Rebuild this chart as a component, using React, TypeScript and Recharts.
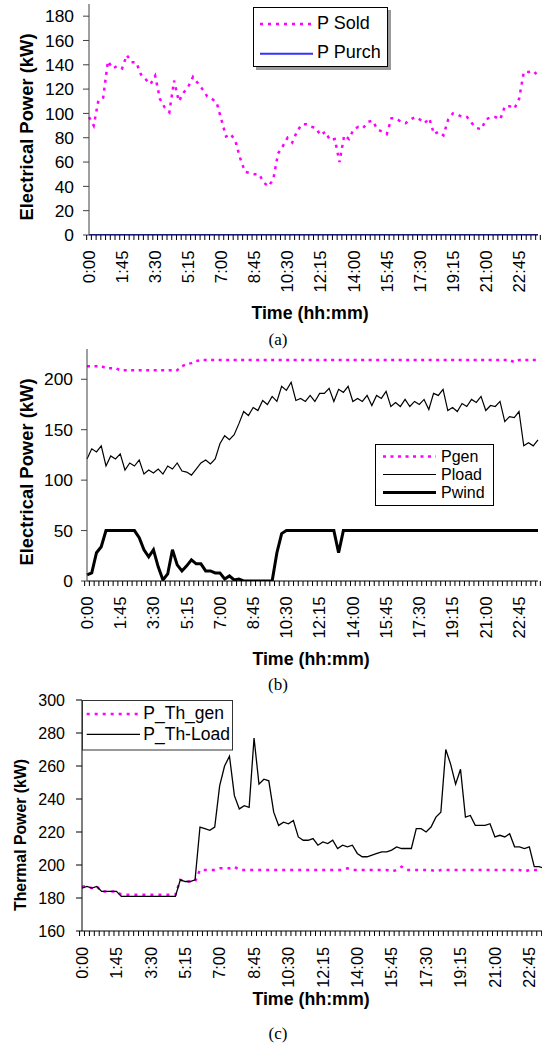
import React from 'react';
import { LineChart, Line, XAxis, YAxis, Legend } from 'recharts';

const FONT = '"Liberation Sans", Arial, Helvetica, sans-serif';
const SERIF = '"Liberation Serif", "Times New Roman", serif';
const MAGENTA = '#ff00ff';

// 15-minute time steps over one day
const TIMES = [
  '0:00', '0:15', '0:30', '0:45', '1:00', '1:15', '1:30', '1:45', '2:00', '2:15', '2:30', '2:45',
  '3:00', '3:15', '3:30', '3:45', '4:00', '4:15', '4:30', '4:45', '5:00', '5:15', '5:30', '5:45',
  '6:00', '6:15', '6:30', '6:45', '7:00', '7:15', '7:30', '7:45', '8:00', '8:15', '8:30', '8:45',
  '9:00', '9:15', '9:30', '9:45', '10:00', '10:15', '10:30', '10:45', '11:00', '11:15', '11:30', '11:45',
  '12:00', '12:15', '12:30', '12:45', '13:00', '13:15', '13:30', '13:45', '14:00', '14:15', '14:30', '14:45',
  '15:00', '15:15', '15:30', '15:45', '16:00', '16:15', '16:30', '16:45', '17:00', '17:15', '17:30', '17:45',
  '18:00', '18:15', '18:30', '18:45', '19:00', '19:15', '19:30', '19:45', '20:00', '20:15', '20:30', '20:45',
  '21:00', '21:15', '21:30', '21:45', '22:00', '22:15', '22:30', '22:45', '23:00', '23:15', '23:30', '23:45',
];

const TIME_LABELS = ['0:00', '1:45', '3:30', '5:15', '7:00', '8:45', '10:30', '12:15', '14:00', '15:45', '17:30', '19:15', '21:00', '22:45'];

// (a) electrical power sold / purchased
const P_SOLD = [
  97, 90, 111, 113, 143, 137, 139, 137, 148, 142, 142, 132,
  128, 124, 131, 112, 105, 101, 127, 110, 117, 122, 130, 125,
  120, 114, 112, 109, 95, 81, 83, 77, 63, 52, 51, 50,
  50, 43, 40, 46, 67, 73, 80, 76, 85, 91, 91, 89,
  88, 82, 85, 78, 79, 60, 82, 79, 87, 89, 88, 93,
  94, 87, 85, 83, 96, 96, 93, 92, 95, 97, 95, 92,
  96, 83, 85, 82, 95, 100, 99, 97, 97, 92, 88, 87,
  95, 97, 97, 95, 106, 106, 104, 112, 134, 134, 135, 131,
];
const P_PURCH = [
  0, 0, 0, 0, 0, 0, 0, 0, 0, 0, 0, 0,
  0, 0, 0, 0, 0, 0, 0, 0, 0, 0, 0, 0,
  0, 0, 0, 0, 0, 0, 0, 0, 0, 0, 0, 0,
  0, 0, 0, 0, 0, 0, 0, 0, 0, 0, 0, 0,
  0, 0, 0, 0, 0, 0, 0, 0, 0, 0, 0, 0,
  0, 0, 0, 0, 0, 0, 0, 0, 0, 0, 0, 0,
  0, 0, 0, 0, 0, 0, 0, 0, 0, 0, 0, 0,
  0, 0, 0, 0, 0, 0, 0, 0, 0, 0, 0, 0,
];

// (b) generation, load and wind
const P_GEN = [
  213, 213, 213, 213, 211, 211, 211, 209, 209, 209, 209, 209,
  209, 209, 209, 209, 209, 209, 209, 209, 213, 215, 216, 218,
  219, 219, 219, 219, 219, 219, 219, 219, 219, 219, 219, 219,
  219, 219, 219, 219, 219, 219, 219, 219, 219, 219, 219, 219,
  219, 219, 219, 219, 219, 219, 219, 219, 219, 219, 219, 219,
  219, 219, 219, 219, 219, 219, 219, 219, 219, 219, 219, 219,
  219, 219, 219, 219, 219, 219, 219, 219, 219, 219, 219, 219,
  219, 219, 219, 219, 219, 219, 217, 219, 219, 219, 219, 219,
];
const P_LOAD = [
  121, 131, 128, 134, 114, 124, 121, 126, 110, 117, 114, 120,
  106, 110, 107, 111, 106, 114, 111, 117, 109, 108, 105, 111,
  117, 120, 116, 121, 136, 144, 140, 145, 156, 168, 164, 172,
  169, 179, 175, 183, 178, 193, 189, 197, 179, 181, 178, 184,
  178, 186, 186, 191, 178, 190, 187, 193, 178, 181, 178, 184,
  174, 184, 181, 188, 173, 177, 173, 180, 173, 178, 175, 180,
  170, 186, 184, 190, 169, 172, 168, 176, 173, 180, 177, 183,
  169, 174, 173, 178, 158, 163, 162, 168, 134, 137, 134, 140,
];
const P_WIND = [
  6, 8, 28, 34, 50, 50, 50, 50, 50, 50, 50, 43,
  31, 24, 31, 14, 1, 7, 31, 16, 10, 15, 21, 17,
  17, 10, 10, 8, 8, 2, 5, 1, 2, 0, 0, 0,
  0, 0, 0, 0, 28, 47, 50, 50, 50, 50, 50, 50,
  50, 50, 50, 50, 50, 28, 50, 50, 50, 50, 50, 50,
  50, 50, 50, 50, 50, 50, 50, 50, 50, 50, 50, 50,
  50, 50, 50, 50, 50, 50, 50, 50, 50, 50, 50, 50,
  50, 50, 50, 50, 50, 50, 50, 50, 50, 50, 50, 50,
];

// (c) thermal generation and load
const TH_GEN = [
  187, 187, 186, 187, 184, 184, 184, 184, 182, 182, 182, 182,
  182, 182, 182, 182, 182, 182, 182, 182, 191, 190, 190, 190,
  197, 197, 197, 197, 198, 198, 198, 199, 197, 197, 197, 197,
  197, 197, 197, 197, 197, 197, 197, 197, 197, 197, 197, 197,
  197, 197, 197, 197, 197, 197, 198, 197, 197, 197, 197, 197,
  197, 197, 197, 196, 197, 199, 197, 197, 197, 197, 197, 197,
  196, 197, 197, 197, 197, 197, 197, 197, 197, 197, 197, 197,
  197, 197, 197, 197, 197, 197, 196, 197, 197, 197, 197, 197,
];
const TH_LOAD = [
  186, 187, 186, 187, 184, 184, 184, 184, 181, 181, 181, 181,
  181, 181, 181, 181, 181, 181, 181, 181, 191, 190, 190, 191,
  223, 222, 221, 223, 248, 260, 266, 242, 234, 236, 235, 277,
  249, 252, 251, 232, 224, 226, 225, 227, 217, 215, 215, 216,
  212, 214, 213, 215, 210, 212, 211, 212, 207, 205, 205, 206,
  207, 208, 208, 209, 211, 210, 210, 210, 222, 222, 220, 223,
  229, 232, 270, 261, 249, 258, 229, 230, 224, 224, 224, 225,
  217, 218, 217, 219, 211, 211, 210, 211, 199, 199, 198, 198,
];

const dataA = TIMES.map((t, i) => ({ t, sold: P_SOLD[i], purch: P_PURCH[i] }));
const dataB = TIMES.map((t, i) => ({ t, gen: P_GEN[i], load: P_LOAD[i], wind: P_WIND[i] }));
const dataC = TIMES.map((t, i) => ({ t, thGen: TH_GEN[i], thLoad: TH_LOAD[i] }));

// category tick marks at every step, rotated time label every 7th step
const makeTimeTick = (step: number, gap: number, fontSize: number) => (props: any) => {
  const { x, y, payload, index } = props;
  const showLabel = TIME_LABELS.includes(payload.value);
  const left = x - step / 2;
  return (
    <g>
      <line x1={left} y1={y} x2={left} y2={y + 5} stroke="#000" strokeWidth={1} />
      {index === TIMES.length - 1 && (
        <line x1={x + step / 2} y1={y} x2={x + step / 2} y2={y + 5} stroke="#000" strokeWidth={1} />
      )}
      {showLabel && (
        <text
          x={x}
          y={y + gap}
          transform={`rotate(-90 ${x} ${y + gap})`}
          textAnchor="end"
          dy="0.35em"
          fontSize={fontSize}
          fontFamily={FONT}
          fill="#000"
        >
          {payload.value}
        </text>
      )}
    </g>
  );
};

const LegendA = () => (
  <svg width={139} height={64} style={{ display: 'block', overflow: 'visible' }}>
    <rect x={3} y={3} width={135} height={60} fill="#9a9a9a" />
    <rect x={0.5} y={0.5} width={134} height={59} fill="#fff" stroke="#000" />
    <line x1={7} y1={17} x2={60} y2={17} stroke={MAGENTA} strokeWidth={2.5} strokeDasharray="3 5" />
    <text x={64} y={21.5} fontSize={18} fontFamily={FONT} fill="#000">P Sold</text>
    <line x1={7} y1={46.7} x2={60} y2={46.7} stroke="#3333ff" strokeWidth={2} />
    <text x={64} y={51} fontSize={18} fontFamily={FONT} fill="#000">P Purch</text>
  </svg>
);

const LegendB = () => (
  <svg width={119} height={63} style={{ display: 'block', overflow: 'visible' }}>
    <rect x={0.5} y={0.5} width={118} height={61} fill="#fff" stroke="#000" />
    <line x1={8} y1={12.5} x2={61} y2={12.5} stroke={MAGENTA} strokeWidth={2.5} strokeDasharray="3 4.5" />
    <text x={66} y={18} fontSize={16} fontFamily={FONT} fill="#000">Pgen</text>
    <line x1={8} y1={30.5} x2={61} y2={30.5} stroke="#000" strokeWidth={1.2} />
    <text x={66} y={36} fontSize={16} fontFamily={FONT} fill="#000">Pload</text>
    <line x1={8} y1={48.5} x2={61} y2={48.5} stroke="#000" strokeWidth={3} />
    <text x={66} y={54} fontSize={16} fontFamily={FONT} fill="#000">Pwind</text>
  </svg>
);

const LegendC = () => (
  <svg width={151} height={51} style={{ display: 'block', overflow: 'visible' }}>
    <rect x={0.5} y={0.5} width={150} height={49.5} fill="#fff" stroke="#333" />
    <line x1={4.7} y1={14} x2={58} y2={14} stroke={MAGENTA} strokeWidth={2.5} strokeDasharray="3 5" />
    <text x={61.3} y={18.5} fontSize={17.5} fontFamily={FONT} fill="#000">P_Th_gen</text>
    <line x1={4.7} y1={34.3} x2={58} y2={34.3} stroke="#000" strokeWidth={1.3} />
    <text x={61.3} y={40} fontSize={17.5} fontFamily={FONT} fill="#000">P_Th-Load</text>
  </svg>
);

const Caption = ({ x, y, size, rotate = false, serif = false, bold = false, children }: any) => (
  <div
    style={{
      position: 'absolute',
      left: x,
      top: y,
      transform: `translate(-50%, -50%)${rotate ? ' rotate(-90deg)' : ''}`,
      fontSize: size,
      lineHeight: 1,
      fontWeight: bold ? 'bold' : 'normal',
      fontFamily: serif ? SERIF : FONT,
      whiteSpace: 'nowrap',
      color: '#000',
    }}
  >
    {children}
  </div>
);

const frameStroke = { stroke: '#888', strokeWidth: 1.5 };

export default function App() {
  return (
    <div style={{ position: 'absolute', left: 0, top: 0, width: 542, height: 1047, background: '#fff', overflow: 'hidden' }}>
      {/* (a) */}
      <div style={{ position: 'absolute', left: 0, top: 0 }}>
        <LineChart width={542} height={340} data={dataA} margin={{ top: 4, right: 4, bottom: 0, left: 0 }}>
          <XAxis
            dataKey="t"
            interval={0}
            height={105}
            tickSize={0}
            tickMargin={0}
            tickLine={false}
            axisLine={{ stroke: '#000' }}
            tick={makeTimeTick(449 / 96, 15.5, 16.8)}
          />
          <XAxis xAxisId="top" dataKey="t" orientation="top" height={0} tick={false} tickLine={false} axisLine={frameStroke} />
          <YAxis
            domain={[0, 190]}
            ticks={[0, 20, 40, 60, 80, 100, 120, 140, 160, 180]}
            interval={0}
            width={89}
            tickSize={6}
            tickMargin={9}
            allowDataOverflow
            axisLine={{ stroke: '#404040' }}
            tickLine={{ stroke: '#404040' }}
            tick={{ fill: '#000', fontSize: 17.4, fontFamily: FONT }}
          />
          <YAxis yAxisId="right" orientation="right" width={0} tick={false} tickLine={false} axisLine={frameStroke} />
          <Line type="linear" dataKey="sold" name="P Sold" stroke={MAGENTA} strokeWidth={2.5} strokeDasharray="3 5" dot={false} isAnimationActive={false} />
          <Line type="linear" dataKey="purch" name="P Purch" stroke="#3333ff" strokeWidth={2} dot={false} isAnimationActive={false} />
          <Legend
            layout="horizontal"
            verticalAlign="middle"
            align="center"
            wrapperStyle={{ left: 253, top: 7, width: 139, height: 64 }}
            content={() => <LegendA />}
          />
        </LineChart>
      </div>

      {/* (b) */}
      <div style={{ position: 'absolute', left: 0, top: 340 }}>
        <LineChart width={542} height={340} data={dataB} margin={{ top: 9, right: 4, bottom: 0, left: 0 }}>
          <XAxis
            dataKey="t"
            interval={0}
            height={99}
            tickSize={0}
            tickMargin={0}
            tickLine={false}
            axisLine={{ stroke: '#000' }}
            tick={makeTimeTick(451 / 96, 15.5, 16.8)}
          />
          <XAxis xAxisId="top" dataKey="t" orientation="top" height={0} tick={false} tickLine={false} axisLine={frameStroke} />
          <YAxis
            domain={[0, 230]}
            ticks={[0, 50, 100, 150, 200]}
            interval={0}
            width={87}
            tickSize={6}
            tickMargin={8}
            allowDataOverflow
            axisLine={{ stroke: '#404040' }}
            tickLine={{ stroke: '#404040' }}
            tick={{ fill: '#000', fontSize: 17.4, fontFamily: FONT }}
          />
          <YAxis yAxisId="right" orientation="right" width={0} tick={false} tickLine={false} axisLine={frameStroke} />
          <Line type="linear" dataKey="gen" name="Pgen" stroke={MAGENTA} strokeWidth={2.5} strokeDasharray="3 4.5" dot={false} isAnimationActive={false} />
          <Line type="linear" dataKey="load" name="Pload" stroke="#000" strokeWidth={1.2} dot={false} isAnimationActive={false} />
          <Line type="linear" dataKey="wind" name="Pwind" stroke="#000" strokeWidth={3} dot={false} isAnimationActive={false} />
          <Legend
            layout="horizontal"
            verticalAlign="middle"
            align="center"
            wrapperStyle={{ left: 375, top: 104, width: 119, height: 63 }}
            content={() => <LegendB />}
          />
        </LineChart>
      </div>

      {/* (c) */}
      <div style={{ position: 'absolute', left: 0, top: 690, width: 542, height: 357, overflow: 'hidden' }}>
        <LineChart width={549} height={357} data={dataC} margin={{ top: 10, right: 0, bottom: 0, left: 0 }}>
          <XAxis
            dataKey="t"
            interval={0}
            height={116}
            tickSize={0}
            tickMargin={0}
            tickLine={false}
            axisLine={{ stroke: '#000' }}
            tick={makeTimeTick(467 / 96, 16, 16.3)}
          />
          <XAxis xAxisId="top" dataKey="t" orientation="top" height={0} tick={false} tickLine={false} axisLine={frameStroke} />
          <YAxis
            domain={[160, 300]}
            ticks={[160, 180, 200, 220, 240, 260, 280, 300]}
            interval={0}
            width={82}
            tickSize={6}
            tickMargin={11}
            allowDataOverflow
            axisLine={{ stroke: '#000' }}
            tickLine={{ stroke: '#000' }}
            tick={{ fill: '#000', fontSize: 16, fontFamily: FONT }}
          />
          <YAxis yAxisId="right" orientation="right" width={0} tick={false} tickLine={false} axisLine={frameStroke} />
          <Line type="linear" dataKey="thGen" name="P_Th_gen" stroke={MAGENTA} strokeWidth={2.5} strokeDasharray="3 5" dot={false} isAnimationActive={false} />
          <Line type="linear" dataKey="thLoad" name="P_Th-Load" stroke="#000" strokeWidth={1.3} dot={false} isAnimationActive={false} />
          <Legend
            layout="horizontal"
            verticalAlign="middle"
            align="center"
            wrapperStyle={{ left: 82, top: 10, width: 151, height: 51 }}
            content={() => <LegendC />}
          />
        </LineChart>
      </div>

      <Caption x={27} y={127} size={18.4} rotate bold>Electrical Power (kW)</Caption>
      <Caption x={310} y={314} size={17.8} bold>Time (hh:mm)</Caption>
      <Caption x={278} y={339} size={17} serif>(a)</Caption>

      <Caption x={27} y={472} size={18.4} rotate bold>Electrical Power (kW)</Caption>
      <Caption x={311} y={660} size={17.8} bold>Time (hh:mm)</Caption>
      <Caption x={278} y={684} size={17} serif>(b)</Caption>

      <Caption x={21} y={835} size={15.8} rotate bold>Thermal Power (kW)</Caption>
      <Caption x={311} y={1000} size={17.8} bold>Time (hh:mm)</Caption>
      <Caption x={278} y={1033} size={17} serif>(c)</Caption>
    </div>
  );
}
